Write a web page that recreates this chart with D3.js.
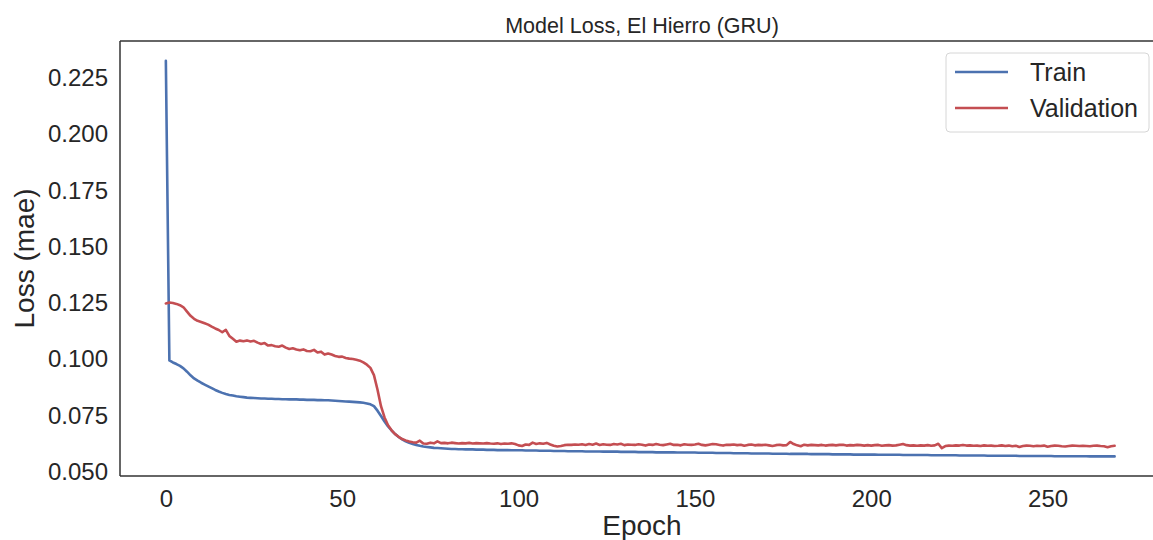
<!DOCTYPE html>
<html>
<head>
<meta charset="utf-8">
<script src="https://cdn.jsdelivr.net/npm/d3@7"></script>
<style>
  html, body { margin: 0; padding: 0; background: #ffffff; }
  svg { display: block; }
  text { font-family: "Liberation Sans", Arial, Helvetica, sans-serif; fill: #262626; }
</style>
</head>
<body>
<svg id="chart" width="1153" height="540"></svg>
<script>
const title = "Model Loss, El Hierro (GRU)";
const xLabel = "Epoch";
const yLabel = "Loss (mae)";
const seriesNames = ["Train", "Validation"];
const xTicks = [0, 50, 100, 150, 200, 250];
const yTicks = [0.050, 0.075, 0.100, 0.125, 0.150, 0.175, 0.200, 0.225];

const trainLoss = [
  0.2325, 0.0995, 0.0986, 0.0979, 0.0971, 0.0960, 0.0945, 0.0929, 0.0915, 0.0905,
  0.0896, 0.0888, 0.0880, 0.0872, 0.0864, 0.0857, 0.0851, 0.0846, 0.0842, 0.0839,
  0.0836, 0.0834, 0.0832, 0.0830, 0.0829, 0.0828, 0.0827, 0.0826, 0.0826, 0.0825,
  0.0825, 0.0824, 0.0824, 0.0823, 0.0823, 0.0822, 0.0822, 0.0822, 0.0821, 0.0821,
  0.0820, 0.0820, 0.0820, 0.0819, 0.0819, 0.0818, 0.0818, 0.0817, 0.0816, 0.0815,
  0.0814, 0.0813, 0.0812, 0.0811, 0.0810, 0.0809, 0.0807, 0.0804, 0.0800, 0.0792,
  0.0772, 0.0748, 0.0724, 0.0702, 0.0684, 0.0668, 0.0655, 0.0645, 0.0636, 0.0629,
  0.0624, 0.0620, 0.0616, 0.0613, 0.0611, 0.0609, 0.0607, 0.0606, 0.0605, 0.0604,
  0.0603, 0.0602, 0.0602, 0.0601, 0.0601, 0.0600, 0.0600, 0.0600, 0.0599, 0.0599,
  0.0599, 0.0598, 0.0598, 0.0598, 0.0597, 0.0597, 0.0597, 0.0597, 0.0596, 0.0596,
  0.0596, 0.0596, 0.0595, 0.0595, 0.0595, 0.0595, 0.0594, 0.0594, 0.0594, 0.0594,
  0.0593, 0.0593, 0.0593, 0.0593, 0.0592, 0.0592, 0.0592, 0.0592, 0.0592, 0.0591,
  0.0591, 0.0591, 0.0591, 0.0591, 0.0590, 0.0590, 0.0590, 0.0590, 0.0590, 0.0589,
  0.0589, 0.0589, 0.0589, 0.0589, 0.0588, 0.0588, 0.0588, 0.0588, 0.0588, 0.0587,
  0.0587, 0.0587, 0.0587, 0.0587, 0.0587, 0.0586, 0.0586, 0.0586, 0.0586, 0.0586,
  0.0586, 0.0585, 0.0585, 0.0585, 0.0585, 0.0585, 0.0584, 0.0584, 0.0584, 0.0584,
  0.0584, 0.0583, 0.0583, 0.0583, 0.0583, 0.0583, 0.0582, 0.0582, 0.0582, 0.0582,
  0.0582, 0.0582, 0.0581, 0.0581, 0.0581, 0.0581, 0.0581, 0.0580, 0.0580, 0.0580,
  0.0580, 0.0580, 0.0580, 0.0579, 0.0579, 0.0579, 0.0579, 0.0579, 0.0579, 0.0578,
  0.0578, 0.0578, 0.0578, 0.0578, 0.0578, 0.0577, 0.0577, 0.0577, 0.0577, 0.0577,
  0.0577, 0.0577, 0.0576, 0.0576, 0.0576, 0.0576, 0.0576, 0.0576, 0.0576, 0.0575,
  0.0575, 0.0575, 0.0575, 0.0575, 0.0575, 0.0575, 0.0575, 0.0574, 0.0574, 0.0574,
  0.0574, 0.0574, 0.0574, 0.0574, 0.0574, 0.0573, 0.0573, 0.0573, 0.0573, 0.0573,
  0.0573, 0.0573, 0.0573, 0.0572, 0.0572, 0.0572, 0.0572, 0.0572, 0.0572, 0.0572,
  0.0572, 0.0572, 0.0571, 0.0571, 0.0571, 0.0571, 0.0571, 0.0571, 0.0571, 0.0571,
  0.0571, 0.0571, 0.0570, 0.0570, 0.0570, 0.0570, 0.0570, 0.0570, 0.0570, 0.0570,
  0.0570, 0.0570, 0.0569, 0.0569, 0.0569, 0.0569, 0.0569, 0.0569, 0.0569, 0.0569
];

const validationLoss = [
  0.1248, 0.1252, 0.1250, 0.1246, 0.1240, 0.1231, 0.1212, 0.1193, 0.1180, 0.1171,
  0.1166, 0.1160, 0.1154, 0.1145, 0.1137, 0.1130, 0.1120, 0.1131, 0.1104, 0.1091,
  0.1078, 0.1083, 0.1080, 0.1084, 0.1079, 0.1082, 0.1074, 0.1068, 0.1072, 0.1061,
  0.1063, 0.1058, 0.1056, 0.1061, 0.1052, 0.1046, 0.1049, 0.1044, 0.1040, 0.1044,
  0.1037, 0.1036, 0.1042, 0.1030, 0.1034, 0.1021, 0.1026, 0.1021, 0.1015, 0.1011,
  0.1012, 0.1006, 0.1003, 0.1001, 0.0998, 0.0994, 0.0986, 0.0976, 0.0962, 0.0930,
  0.0866, 0.0792, 0.0742, 0.0707, 0.0685, 0.0668, 0.0656, 0.0646, 0.0640, 0.0635,
  0.0632, 0.0630, 0.0639, 0.0626, 0.0625, 0.0630, 0.0627, 0.0636, 0.0628, 0.0629,
  0.0627, 0.0630, 0.0628, 0.0626, 0.0628, 0.0627, 0.0629, 0.0626, 0.0628, 0.0627,
  0.0626, 0.0628, 0.0626, 0.0625, 0.0627, 0.0624, 0.0626, 0.0625, 0.0627, 0.0624,
  0.0618, 0.0615, 0.0622, 0.0620, 0.0630, 0.0624, 0.0627, 0.0625, 0.0629, 0.0622,
  0.0616, 0.0613, 0.0615, 0.0619, 0.0621, 0.0620, 0.0622, 0.0621, 0.0623, 0.0620,
  0.0624, 0.0621, 0.0626, 0.0620, 0.0623, 0.0621, 0.0620, 0.0624, 0.0622, 0.0625,
  0.0619, 0.0622, 0.0621, 0.0620, 0.0623, 0.0621, 0.0617, 0.0622, 0.0620, 0.0624,
  0.0621, 0.0619, 0.0622, 0.0625, 0.0620, 0.0621, 0.0618, 0.0623, 0.0621, 0.0620,
  0.0622, 0.0625, 0.0620, 0.0618, 0.0621, 0.0624, 0.0623, 0.0620, 0.0617, 0.0621,
  0.0620, 0.0622, 0.0619, 0.0621, 0.0616, 0.0620, 0.0622, 0.0618, 0.0620, 0.0619,
  0.0621, 0.0618, 0.0615, 0.0619, 0.0621, 0.0618, 0.0619, 0.0633, 0.0624, 0.0618,
  0.0614, 0.0621, 0.0618, 0.0620, 0.0619, 0.0618, 0.0620, 0.0617, 0.0619, 0.0620,
  0.0618, 0.0620, 0.0621, 0.0617, 0.0619, 0.0618, 0.0620, 0.0619, 0.0617, 0.0619,
  0.0617, 0.0619, 0.0620, 0.0616, 0.0618, 0.0619, 0.0617, 0.0618, 0.0621, 0.0624,
  0.0619, 0.0617, 0.0618, 0.0616, 0.0618, 0.0617, 0.0619, 0.0616, 0.0618, 0.0625,
  0.0606, 0.0615, 0.0617, 0.0616, 0.0618, 0.0617, 0.0620, 0.0617, 0.0618, 0.0616,
  0.0617, 0.0615, 0.0618, 0.0616, 0.0617, 0.0615, 0.0616, 0.0618, 0.0615, 0.0617,
  0.0614, 0.0616, 0.0611, 0.0615, 0.0617, 0.0616, 0.0614, 0.0616, 0.0615, 0.0617,
  0.0612, 0.0615, 0.0617, 0.0616, 0.0614, 0.0613, 0.0615, 0.0617, 0.0616, 0.0615,
  0.0616, 0.0615, 0.0614, 0.0616, 0.0617, 0.0615, 0.0614, 0.0610, 0.0614, 0.0616
];

const colors = ["#4c72b0", "#c44e52"];

const svg = d3.select("#chart");
const W = 1153, H = 540;
const plot = { left: 120, top: 41, right: 1164, bottom: 476 };

const x = d3.scaleLinear().domain([-13, 283]).range([plot.left, plot.right]);
const y = d3.scaleLinear().domain([0.0482, 0.2413]).range([plot.bottom, plot.top]);

svg.append("rect").attr("width", W).attr("height", H).attr("fill", "#ffffff");

svg.append("defs").append("clipPath").attr("id", "clip")
  .append("rect").attr("x", plot.left).attr("y", plot.top)
  .attr("width", plot.right - plot.left).attr("height", plot.bottom - plot.top);

// Axes via d3 (no tick lines, seaborn white style)
const xAxis = d3.axisBottom(x).tickValues(xTicks).tickSize(0).tickPadding(14).tickFormat(d3.format("d"));
const yAxis = d3.axisLeft(y).tickValues(yTicks).tickSize(0).tickPadding(12).tickFormat(d3.format(".3f"));

const gx = svg.append("g").attr("transform", `translate(0,${plot.bottom})`).call(xAxis);
gx.select(".domain").remove();
gx.selectAll("text").attr("font-size", 24).attr("fill", "#262626")
  .style("font-family", "'Liberation Sans', Arial, sans-serif");

const gy = svg.append("g").attr("transform", `translate(${plot.left},0)`).call(yAxis);
gy.select(".domain").remove();
gy.selectAll("text").attr("font-size", 24).attr("fill", "#262626")
  .style("font-family", "'Liberation Sans', Arial, sans-serif");

// Lines
const line = d3.line().x((d, i) => x(i)).y(d => y(d));
const series = [trainLoss, validationLoss];
const gLines = svg.append("g").attr("clip-path", "url(#clip)");
series.forEach((s, k) => {
  gLines.append("path").datum(s)
    .attr("d", line)
    .attr("fill", "none")
    .attr("stroke", colors[k])
    .attr("stroke-width", 2.6)
    .attr("stroke-linejoin", "round")
    .attr("stroke-linecap", "round");
});

// Spines (right spine lies beyond the picture's edge)
const spine = svg.append("g").attr("stroke", "#333333").attr("stroke-width", 1.5).attr("fill", "none");
spine.append("line").attr("x1", plot.left).attr("x2", plot.left).attr("y1", plot.top).attr("y2", plot.bottom);
spine.append("line").attr("x1", plot.left).attr("x2", plot.right).attr("y1", plot.top).attr("y2", plot.top);
spine.append("line").attr("x1", plot.left).attr("x2", plot.right).attr("y1", plot.bottom).attr("y2", plot.bottom);

// Title and axis labels
const cx = (plot.left + plot.right) / 2;
svg.append("text").attr("x", cx).attr("y", 33).attr("text-anchor", "middle")
  .attr("font-size", 21.5).text(title);
svg.append("text").attr("x", cx).attr("y", 535).attr("text-anchor", "middle")
  .attr("font-size", 28).text(xLabel);
svg.append("text")
  .attr("transform", `translate(34,${(plot.top + plot.bottom) / 2}) rotate(-90)`)
  .attr("text-anchor", "middle").attr("font-size", 28).text(yLabel);

// Legend
const lg = svg.append("g");
lg.append("rect").attr("x", 946).attr("y", 53).attr("width", 203).attr("height", 79)
  .attr("rx", 4).attr("fill", "#ffffff").attr("fill-opacity", 0.8)
  .attr("stroke", "#d6d6d6").attr("stroke-width", 1);
seriesNames.forEach((n, k) => {
  const yy = 72 + k * 36;
  lg.append("line").attr("x1", 955).attr("x2", 1008).attr("y1", yy).attr("y2", yy)
    .attr("stroke", colors[k]).attr("stroke-width", 2.6);
  lg.append("text").attr("x", 1030).attr("y", yy + 9).attr("font-size", 25).text(n);
});
</script>
</body>
</html>
